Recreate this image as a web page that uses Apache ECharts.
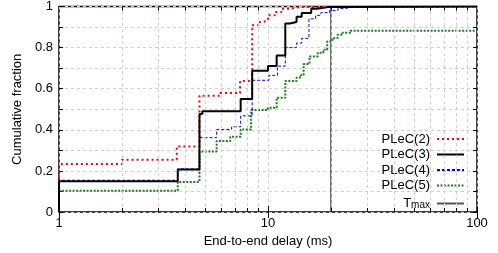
<!DOCTYPE html>
<html>
<head>
<meta charset="utf-8">
<script src="https://cdn.jsdelivr.net/npm/echarts@6/dist/echarts.min.js"></script>
<style>
html, body { margin: 0; padding: 0; background: #fff; }
#main { width: 498px; height: 253px; }
</style>
</head>
<body>
<div id="main"></div>
<script>
// step CDFs: [delay (ms), cumulative fraction reached at that delay]
var plec2 = [[1, 0], [1, 0.234], [2.0, 0.255], [3.66, 0.319], [4.7, 0.566], [5.9, 0.579],
    [7.35, 0.638], [8.4, 0.909], [9.0, 0.925], [9.5, 0.933], [10.0, 0.957], [10.8, 0.973],
    [11.6, 0.989], [12.7, 0.997], [14.2, 1], [100, 1]];
var plec3 = [[1, 0], [1, 0.15], [3.7, 0.207], [4.7, 0.477], [4.85, 0.49], [7.4, 0.55],
    [8.4, 0.688], [10.0, 0.71], [11.0, 0.762], [12.1, 0.917], [12.7, 0.925], [13.7, 0.95],
    [14.5, 0.968], [16.1, 0.989], [17.1, 0.997], [19.4, 1], [100, 1]];
var plec4 = [[1, 0], [1, 0.155], [3.7, 0.21], [4.7, 0.362], [5.68, 0.402], [6.7, 0.415],
    [7.4, 0.468], [8.4, 0.641], [10.1, 0.665], [11.1, 0.71], [12.1, 0.8], [13.7, 0.822],
    [14.5, 0.845], [15.7, 0.94], [16.9, 0.957], [17.9, 0.97], [19.7, 0.98], [21.6, 0.99],
    [23.3, 0.997], [25.5, 1], [100, 1]];
var plec5 = [[1, 0], [1, 0.104], [3.7, 0.147], [4.7, 0.295], [5.68, 0.346], [6.6, 0.367],
    [7.4, 0.402], [8.3, 0.496], [10.0, 0.508], [11.0, 0.556], [12.1, 0.638], [13.7, 0.655],
    [14.4, 0.667], [14.8, 0.72], [15.8, 0.757], [17.3, 0.775], [18.4, 0.79], [19.2, 0.83],
    [20.3, 0.845], [21.5, 0.862], [22.7, 0.872], [24.8, 0.882], [100, 0.882]];
var tMax = 20;

var seriesNames = ["PLeC(2)", "PLeC(3)", "PLeC(4)", "PLeC(5)", "Tmax"];
var xMinor = [2, 3, 4, 5, 6, 7, 8, 9, 20, 30, 40, 50, 60, 70, 80, 90];

var chart = echarts.init(document.getElementById("main"));
var font = "Liberation Sans, Arial, sans-serif";
var gridColor = "#dcc6dc";

var tickMarks = [];
xMinor.forEach(function (v) {
    tickMarks.push([{ coord: [v, 0] }, { coord: [v, 0.02] }]);
    tickMarks.push([{ coord: [v, 1] }, { coord: [v, 0.98] }]);
});

var option = {
    backgroundColor: "#fff",
    animation: false,
    textStyle: { fontFamily: font },
    grid: {
        left: 59, right: 21, top: 6, bottom: 38,
        show: true, borderColor: "#000", borderWidth: 1.5, backgroundColor: "transparent"
    },
    legend: {
        data: seriesNames,
        orient: "vertical",
        right: 33,
        top: 132,
        padding: 0,
        align: "right",
        itemWidth: 27,
        itemHeight: 14,
        itemGap: 1.5,
        itemStyle: { opacity: 0 },
        textStyle: {
            fontFamily: font, fontSize: 13, color: "#000", lineHeight: 14, padding: [0, 2, 0, 0],
            rich: {
                t: { fontFamily: font, fontSize: 13, color: "#000", lineHeight: 13, verticalAlign: "top" },
                s: { fontFamily: font, fontSize: 10, color: "#000", lineHeight: 10, verticalAlign: "bottom", padding: [6, 0, 0, 0] }
            }
        },
        formatter: function (name) {
            return name === "Tmax" ? "{t|T}{s|max}" : name;
        }
    },
    xAxis: [{
        type: "log", logBase: 10, min: 1, max: 100,
        name: "End-to-end delay (ms)", nameLocation: "middle", nameGap: 16,
        nameTextStyle: { fontFamily: font, fontSize: 13, color: "#000" },
        axisLine: { show: false },
        axisTick: { inside: true, length: 6, lineStyle: { color: "#000" } },
        axisLabel: { color: "#000", fontSize: 13, fontFamily: font, margin: 5 },
        splitLine: { show: true, lineStyle: { color: gridColor, type: [3, 3] } }
    }, {
        type: "log", logBase: 10, min: 1, max: 100, position: "top",
        axisLine: { show: false },
        axisTick: { inside: true, length: 6, lineStyle: { color: "#000" } },
        axisLabel: { show: false },
        splitLine: { show: false }
    }],
    yAxis: [{
        type: "value", min: 0, max: 1, interval: 0.1,
        name: "Cumulative fraction", nameLocation: "middle", nameGap: 25,
        nameTextStyle: { fontFamily: font, fontSize: 13, color: "#000" },
        axisLine: { show: false },
        axisTick: { inside: true, length: 4, lineStyle: { color: "#000" } },
        axisLabel: {
            color: "#000", fontSize: 13, fontFamily: font, margin: 6,
            formatter: function (v) {
                return Math.round(v * 10) % 2 === 0 ? String(Math.round(v * 10) / 10) : "";
            }
        },
        splitLine: { show: true, lineStyle: { color: gridColor, type: [3, 3] } }
    }, {
        type: "value", min: 0, max: 1, interval: 0.1, position: "right",
        axisLine: { show: false },
        axisTick: { inside: true, length: 4, lineStyle: { color: "#000" } },
        axisLabel: { show: false },
        splitLine: { show: false }
    }],
    series: [
        {
            name: "grid", type: "line", data: [], z: 1, silent: true,
            markLine: {
                silent: true, symbol: "none", label: { show: false },
                lineStyle: { color: gridColor, type: [3, 3], width: 1 },
                data: xMinor.map(function (v) { return { xAxis: v }; })
            }
        },
        {
            name: "ticks", type: "line", data: [], z: 1, silent: true,
            markLine: {
                silent: true, symbol: "none", label: { show: false },
                lineStyle: { color: "#000", type: "solid", width: 1 },
                data: tickMarks
            }
        },
        {
            name: "PLeC(2)", type: "line", step: "end", data: plec2, symbol: "none", z: 3,
            color: "#f00", lineStyle: { color: "#f00", width: 2, type: [2, 3] }
        },
        {
            name: "PLeC(3)", type: "line", step: "end", data: plec3, symbol: "none", z: 5,
            color: "#000", lineStyle: { color: "#000", width: 2, type: "solid" }
        },
        {
            name: "PLeC(4)", type: "line", step: "end", data: plec4, symbol: "none", z: 4,
            color: "#00f", lineStyle: { color: "#00f", width: 1, type: [3, 2] }
        },
        {
            name: "PLeC(5)", type: "line", step: "end", data: plec5, symbol: "none", z: 3,
            color: "#1e7d1e", lineStyle: { color: "#1e7d1e", width: 2, type: [2, 1.5] }
        },
        {
            name: "Tmax", type: "line", data: [[tMax, 0], [tMax, 1]], symbol: "none", z: 2,
            color: "#444", lineStyle: { color: "#555", width: 1.5 }
        }
    ]
};

chart.setOption(option);
</script>
</body>
</html>
